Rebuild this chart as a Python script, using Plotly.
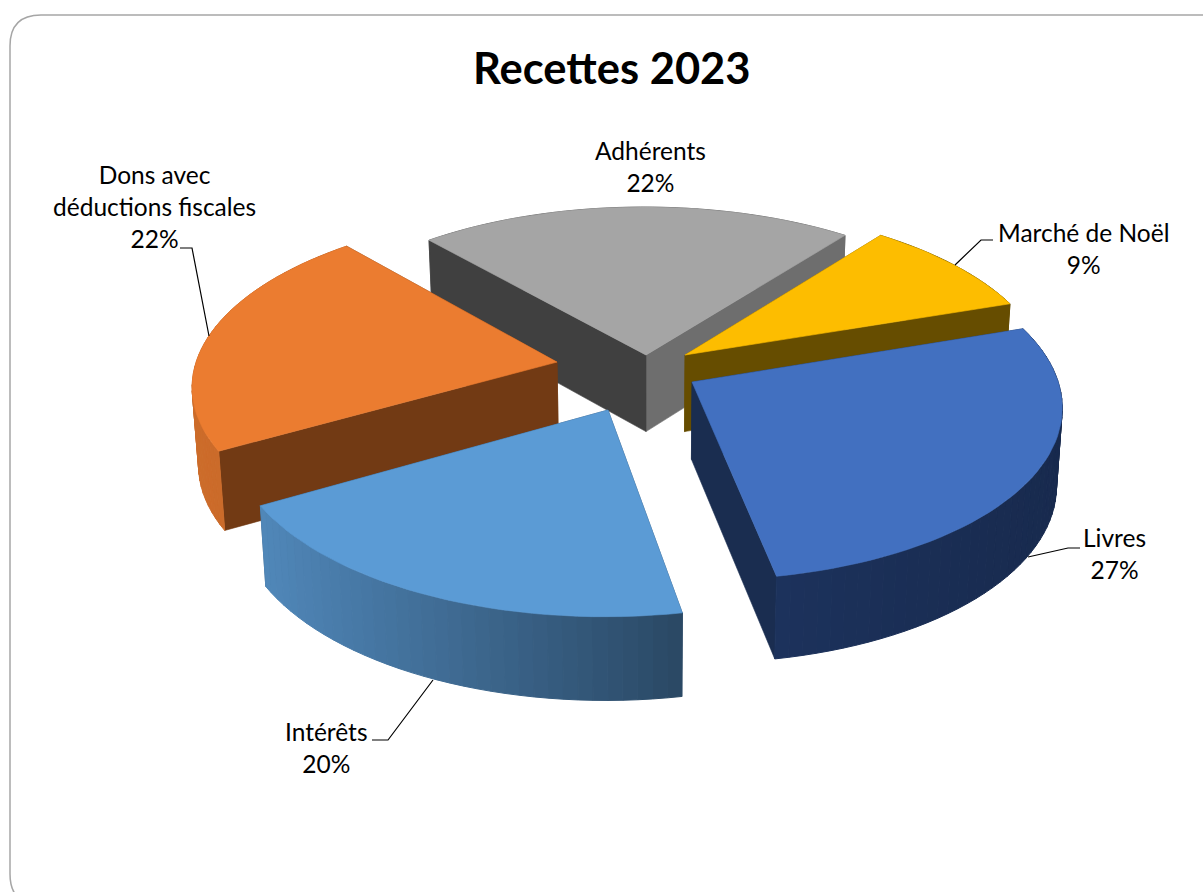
import math
import plotly.graph_objects as go

# ---- data ----
categories = ["Adhérents", "Marché de Noël", "Livres", "Intérêts", "Dons avec<br>déductions fiscales"]
values = [21.9, 9.3, 27.3, 19.6, 21.9]

# ---- styling / layout ----
START_ANGLE = -41.0
TOP = ["#a5a5a5", "#fdbd00", "#4270c0", "#5b9bd5", "#eb7c30"]
CUT_START = ["#404040", "#664d00", "#1a2d50", "#2b4a66", "#723a14"]
CUT_END = ["#6e6e6e", "#664d00", "#1a2d50", "#2b4a66", "#723a14"]
WALL_L = [(110, 110, 110), (110, 85, 0), (28, 50, 92), (80, 135, 185), (205, 108, 42)]
WALL_R = [(110, 110, 110), (102, 77, 0), (24, 42, 78), (42, 72, 100), (190, 100, 40)]
PULL = [(0.0501, 0.0892), (0.1588, 0.0892), (0.1748, -0.07), (-0.0535, -0.2286), (-0.1967, 0.0468)]
DRAW_ORDER = [0, 1, 4, 2, 3]
CX, CY, S, K, D, H = 628, 370, 363, 170, 8.0, 77
VX, TILT = 650, 0.014


def project(x, y, z=0.0):
    p = D / (D + y)
    sx = CX + S * x * p
    return (sx + (VX - sx) * TILT * z, CY - K * y * p + H * z * math.sqrt(p))


def rgb(c):
    return "rgb(%d,%d,%d)" % tuple(round(v) for v in c)


fig = go.Figure()


def poly(points, color, lw=0.6):
    xs = [p[0] for p in points] + [points[0][0]]
    ys = [p[1] for p in points] + [points[0][1]]
    fig.add_trace(go.Scatter(x=xs, y=ys, mode="lines", fill="toself", fillcolor=color,
                             line=dict(color=color, width=lw), hoverinfo="skip", showlegend=False))


total = sum(values)
spans = []
a = START_ANGLE
for v in values:
    spans.append((a, a + 360 * v / total))
    a += 360 * v / total

for i in DRAW_ORDER:
    a0, a1 = spans[i]
    ox, oy = PULL[i]
    n = max(4, int((a1 - a0) / 2))
    angs = [a0 + (a1 - a0) * j / n for j in range(n + 1)]
    rim = [(ox + math.sin(math.radians(t)), oy + math.cos(math.radians(t))) for t in angs]
    faces = []
    # the two cut faces
    for (pt, col) in ((rim[0], CUT_START[i]), (rim[-1], CUT_END[i])):
        q = [project(ox, oy), project(*pt), project(pt[0], pt[1], 1), project(ox, oy, 1)]
        faces.append(((oy + pt[1]) / 2, q, col, 0.6))
    # outer wall strips
    xmin = min(project(*r)[0] for r in rim)
    xmax = max(project(*r)[0] for r in rim)
    for j in range(n):
        r0, r1 = rim[j], rim[j + 1]
        q = [project(*r0), project(*r1), project(r1[0], r1[1], 1), project(r0[0], r0[1], 1)]
        f = ((q[0][0] + q[1][0]) / 2 - xmin) / max(1, xmax - xmin)
        col = rgb([WALL_L[i][c] + (WALL_R[i][c] - WALL_L[i][c]) * f for c in range(3)])
        faces.append(((r0[1] + r1[1]) / 2, q, col, 1.0))
    for _, q, col, lw in sorted(faces, key=lambda t: -t[0]):
        poly(q, col, lw)
    poly([project(ox, oy)] + [project(*r) for r in rim], TOP[i])

# ---- labels ----
LABEL_POS = [(650, 166), (1083, 248), (1114, 553), (326, 747), (154, 206)]
anns = [dict(x=x, y=y, text=f"{c}<br>{v:.0f}%", showarrow=False, xanchor="center", yanchor="middle",
             font=dict(family="Lato, Carlito, Calibri, sans-serif", size=24.5, color="#000000"))
        for c, v, (x, y) in zip(categories, values, LABEL_POS)]
anns.append(dict(x=612, y=67, text="<b>Recettes 2023</b>", showarrow=False, xanchor="center", yanchor="middle",
                 font=dict(family="Lato, Carlito, Calibri, sans-serif", size=43.5, color="#000000")))

leaders = [
    "M 955 265 L 981 240 L 993 240",
    "M 1028 557 L 1068 548 L 1080 548",
    "M 433 680 L 388 740 L 372 740",
    "M 209 336 L 192 248 L 180 248",
]
shapes = [dict(type="path", xref="x", yref="y", path=p, line=dict(color="#000000", width=1.2), layer="above")
          for p in leaders]
shapes.append(dict(type="path", xref="x", yref="y", layer="below",
                   path="M 10 46 Q 10 15 41 15 L 1240 15 L 1240 905 L 41 905 Q 10 905 10 874 Z",
                   line=dict(color="#a6a6a6", width=1.5), fillcolor="#ffffff"))

fig.update_layout(
    width=1203, height=892, margin=dict(l=0, r=0, t=0, b=0),
    paper_bgcolor="#ffffff", plot_bgcolor="#ffffff", showlegend=False,
    xaxis=dict(range=[0, 1203], visible=False, fixedrange=True),
    yaxis=dict(range=[892, 0], visible=False, fixedrange=True),
    annotations=anns, shapes=shapes,
)
fig.write_html("out.html", config={"displayModeBar": False},
               post_script="document.body.style.margin='0';document.body.style.overflow='hidden';")
